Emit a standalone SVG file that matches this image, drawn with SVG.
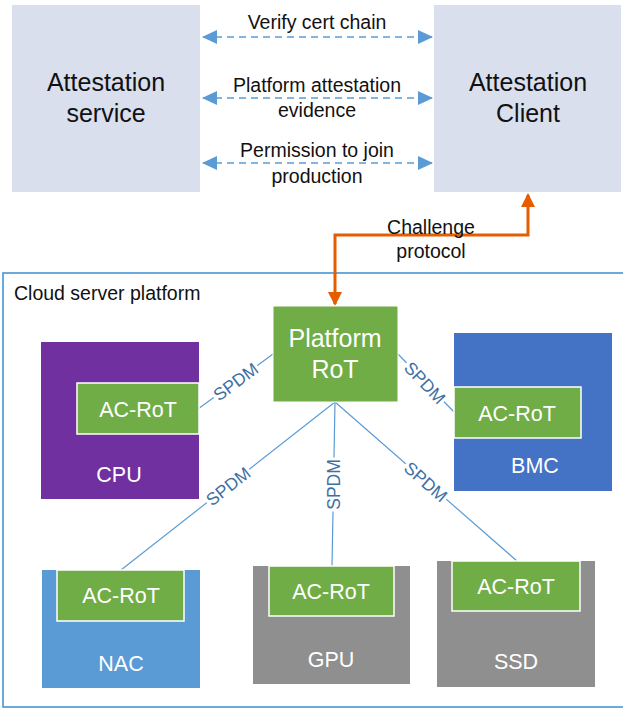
<svg xmlns="http://www.w3.org/2000/svg" width="623" height="708" viewBox="0 0 623 708">
  <style>
    text { font-family: "Liberation Sans", Arial, sans-serif; }
    .svc { fill: #D9DFED; }
    .big { font-size: 25px; fill: #111; text-anchor: middle; }
    .mid { font-size: 19.5px; fill: #111; text-anchor: middle; }
    .wht { font-size: 25px; fill: #fff; text-anchor: middle; }
    .lbl { font-size: 21.5px; fill: #fff; text-anchor: middle; }
    .ac { fill: #70AD47; stroke: #fff; stroke-width: 1.5; }
    .dash { stroke: #5B9BD5; stroke-width: 1.6; stroke-dasharray: 7 5; fill: none; }
    .link { stroke: #5B9BD5; stroke-width: 1.2; fill: none; }
    .spdm { font-size: 17.5px; fill: #3E6FA3; text-anchor: middle; }
    .orange { stroke: #E65C00; stroke-width: 3; fill: none; }
  </style>
  <defs>
    <marker id="blueHead" viewBox="0 0 15 14" refX="14" refY="7" markerWidth="15" markerHeight="14" markerUnits="userSpaceOnUse" orient="auto-start-reverse">
      <path d="M0,0 L15,7 L0,14 Z" fill="#5B9BD5"/>
    </marker>
    <marker id="orangeHead" viewBox="0 0 14 14" refX="12" refY="7" markerWidth="14" markerHeight="14" markerUnits="userSpaceOnUse" orient="auto-start-reverse">
      <path d="M0,0 L14,7 L0,14 Z" fill="#E65C00"/>
    </marker>
  </defs>

  <!-- Cloud platform container -->
  <g id="cloud-platform">
    <rect x="3" y="273" width="630" height="434" fill="#fff" stroke="#3C8DD0" stroke-width="1.5"/>
    <text x="14" y="300" style="font-size:19.5px;fill:#111">Cloud server platform</text>
  </g>

  <g id="attestation-service">
    <rect class="svc" x="12" y="5" width="188" height="187"/>
    <text class="big" x="106" y="91">Attestation</text>
    <text class="big" x="106" y="122">service</text>
  </g>

  <g id="attestation-client">
    <rect class="svc" x="434" y="5" width="187" height="187"/>
    <text class="big" x="528" y="91">Attestation</text>
    <text class="big" x="528" y="122">Client</text>
  </g>

  <!-- Connectors -->
  <g id="connectors">
    <line class="dash" x1="203" y1="37" x2="432" y2="37" marker-start="url(#blueHead)" marker-end="url(#blueHead)"/>
    <line class="dash" x1="203" y1="98" x2="432" y2="98" marker-start="url(#blueHead)" marker-end="url(#blueHead)"/>
    <line class="dash" x1="203" y1="163" x2="432" y2="163" marker-start="url(#blueHead)" marker-end="url(#blueHead)"/>
    <text class="mid" x="317" y="29">Verify cert chain</text>
    <text class="mid" x="317" y="92">Platform attestation</text>
    <text class="mid" x="317" y="117">evidence</text>
    <text class="mid" x="317" y="157">Permission to join</text>
    <text class="mid" x="317" y="183">production</text>

    <polyline class="orange" points="335,304 335,235 528,235 528,195" marker-start="url(#orangeHead)" marker-end="url(#orangeHead)"/>
    <text class="mid" x="431" y="234">Challenge</text>
    <text class="mid" x="431" y="258">protocol</text>

    <line class="link" x1="273" y1="354" x2="198" y2="409"/>
    <line class="link" x1="397" y1="353" x2="454" y2="412"/>
    <line class="link" x1="335" y1="402" x2="121" y2="570"/>
    <line class="link" x1="335" y1="402" x2="332" y2="566"/>
    <line class="link" x1="335" y1="402" x2="517" y2="561"/>

    <g transform="translate(235.5,381.5) rotate(-36.6)">
      <rect x="-27" y="-10" width="54" height="20" fill="#fff"/>
      <text class="spdm" x="0" y="6.5">SPDM</text>
    </g>
    <g transform="translate(425,382.5) rotate(46.5)">
      <rect x="-27" y="-10" width="54" height="20" fill="#fff"/>
      <text class="spdm" x="0" y="6.5">SPDM</text>
    </g>
    <g transform="translate(228,486) rotate(-38.1)">
      <rect x="-27" y="-10" width="54" height="20" fill="#fff"/>
      <text class="spdm" x="0" y="6.5">SPDM</text>
    </g>
    <g transform="translate(333.5,484.5) rotate(-90)">
      <rect x="-27" y="-10" width="54" height="20" fill="#fff"/>
      <text class="spdm" x="0" y="6.5">SPDM</text>
    </g>
    <g transform="translate(426,481.5) rotate(41.1)">
      <rect x="-27" y="-10" width="54" height="20" fill="#fff"/>
      <text class="spdm" x="0" y="6.5">SPDM</text>
    </g>
  </g>

  <g id="platform-rot">
    <rect x="273" y="306" width="125" height="96" fill="#70AD47" stroke="#fff" stroke-width="1"/>
    <text class="wht" x="335" y="347">Platform</text>
    <text class="wht" x="335" y="378">RoT</text>
  </g>

  <g id="cpu">
    <rect x="41" y="342" width="158" height="157" fill="#7030A0"/>
    <rect class="ac" x="77" y="383" width="122" height="51"/>
    <text class="lbl" x="138" y="417">AC-RoT</text>
    <text class="lbl" x="119" y="482">CPU</text>
  </g>

  <g id="bmc">
    <rect x="454" y="333" width="158" height="158" fill="#4472C4"/>
    <rect class="ac" x="454" y="387" width="127" height="51"/>
    <text class="lbl" x="517" y="421">AC-RoT</text>
    <text class="lbl" x="535" y="473">BMC</text>
  </g>

  <g id="nac">
    <rect x="42" y="570" width="158" height="118" fill="#5B9BD5"/>
    <rect class="ac" x="57" y="570" width="127" height="51"/>
    <text class="lbl" x="121" y="603">AC-RoT</text>
    <text class="lbl" x="121" y="671">NAC</text>
  </g>

  <g id="gpu">
    <rect x="253" y="566" width="157" height="118" fill="#8F8F8F"/>
    <rect class="ac" x="269" y="566" width="125" height="50"/>
    <text class="lbl" x="331" y="599">AC-RoT</text>
    <text class="lbl" x="331" y="667">GPU</text>
  </g>

  <g id="ssd">
    <rect x="437" y="561" width="158" height="126" fill="#8F8F8F"/>
    <rect class="ac" x="452" y="561" width="128" height="50"/>
    <text class="lbl" x="516" y="594">AC-RoT</text>
    <text class="lbl" x="516" y="669">SSD</text>
  </g>
</svg>
